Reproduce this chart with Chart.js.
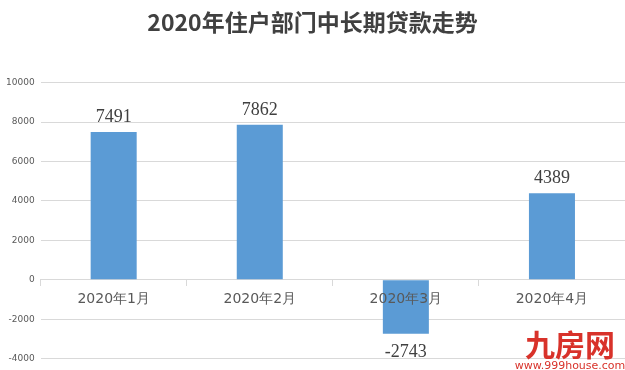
<!DOCTYPE html>
<html>
<head>
<meta charset="utf-8">
<script src="https://cdn.jsdelivr.net/npm/chart.js@4"></script>
<style>
  html, body { margin: 0; padding: 0; background: #fff; }
  #wrap { width: 625px; height: 370px; }
</style>
</head>
<body>
<div id="wrap"><canvas id="loanChart"></canvas></div>
<script>
"use strict"

const categories = ['2020年1月', '2020年2月', '2020年3月', '2020年4月'];
const loans = [7491, 7862, -2743, 4389];
const yTicks = [-4000, -2000, 0, 2000, 4000, 6000, 8000, 10000];

// étiquettes de valeur au-dessus / en dessous des barres
const valueLabels = {
    id: 'valueLabels',
    afterDatasetsDraw(chart) {
        const ctx = chart.ctx;
        const meta = chart.getDatasetMeta(0);
        ctx.save();
        ctx.font = '18px "Liberation Serif", serif';
        ctx.fillStyle = '#404040';
        ctx.textAlign = 'center';
        ctx.textBaseline = 'alphabetic';
        meta.data.forEach((bar, i) => {
            const v = loans[i];
            if (v >= 0) {
                ctx.fillText(String(v), bar.x, bar.y - 10);
            } else {
                ctx.fillText(String(v), bar.x, bar.y + 23);
            }
        });
        ctx.restore();
    }
};

// filigrane en bas à droite
const watermark = {
    id: 'watermark',
    afterDraw(chart) {
        const ctx = chart.ctx;
        ctx.save();
        ctx.fillStyle = '#d8322a';
        ctx.textAlign = 'center';
        ctx.textBaseline = 'alphabetic';
        ctx.font = 'bold 30px "Noto Sans CJK SC", sans-serif';
        ctx.fillText('九房网', 570, 356);
        ctx.font = '11px "DejaVu Sans", sans-serif';
        ctx.fillText('www.999house.com', 570, 369);
        ctx.restore();
    }
};

const ctx = document.getElementById('loanChart').getContext('2d');

new Chart(ctx, {
    type: 'bar',
    data: {
        labels: categories,
        datasets: [{
            label: '中长期贷款',
            data: loans,
            backgroundColor: '#5b9bd5',
            borderWidth: 0,
            categoryPercentage: 1,
            barPercentage: 0.315
        }]
    },
    options: {
        responsive: true,
        maintainAspectRatio: false,
        animation: false,
        layout: {
            padding: { left: 0, right: 0, top: 0, bottom: 0 }
        },
        plugins: {
            legend: { display: false },
            tooltip: { enabled: false },
            title: {
                display: true,
                text: '2020年住户部门中长期贷款走势',
                color: '#404040',
                font: { family: '"Noto Sans CJK SC", sans-serif', size: 23, weight: 'bold' },
                padding: { top: 8, bottom: 47 }
            }
        },
        scales: {
            x: {
                position: { y: 0 },
                grid: {
                    offset: true,
                    drawOnChartArea: false,
                    drawTicks: true,
                    tickLength: 6,
                    color: '#d9d9d9'
                },
                border: { display: true, color: '#d9d9d9' },
                ticks: {
                    z: 1, // libellés par-dessus les barres
                    color: '#595959',
                    padding: 5,
                    font: { family: '"DejaVu Sans", sans-serif', size: 14 }
                }
            },
            y: {
                min: -4000,
                max: 10000,
                afterBuildTicks(axis) {
                    axis.ticks = yTicks.map(v => ({ value: v }));
                },
                grid: {
                    color: '#d9d9d9',
                    drawTicks: false
                },
                border: { display: false },
                ticks: {
                    color: '#595959',
                    padding: 6,
                    font: { family: '"DejaVu Sans", sans-serif', size: 9 },
                    callback: v => String(v)
                }
            }
        }
    },
    plugins: [valueLabels, watermark]
});
</script>
</body>
</html>
